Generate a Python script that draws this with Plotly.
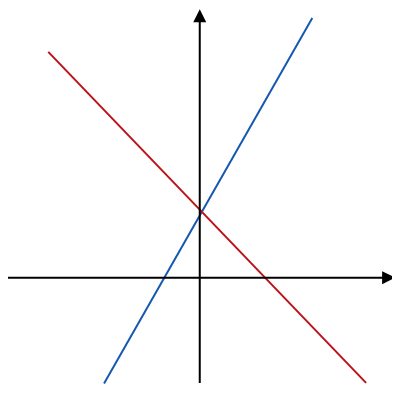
import plotly.graph_objects as go

# two straight lines (1 unit ~ 33 px)
blue_x = [-2.90, 3.41]
blue_y = [-3.21, 7.87]
red_x = [-4.59, 5.04]
red_y = [6.84, -3.19]

# axis extents (tail, tip)
xaxis_ends = [-5.93, 5.92]
yaxis_ends = [-3.24, 8.13]

fig = go.Figure()
fig.add_trace(go.Scatter(x=blue_x, y=blue_y, mode="lines",
                         line=dict(color="#1558b0", width=2)))
fig.add_trace(go.Scatter(x=red_x, y=red_y, mode="lines",
                         line=dict(color="#bb1219", width=2)))

# coordinate axes with arrowheads
fig.add_annotation(x=xaxis_ends[1], y=0, ax=xaxis_ends[0], ay=0,
                   xref="x", yref="y", axref="x", ayref="y",
                   showarrow=True, arrowhead=2, arrowsize=1.3, arrowwidth=2,
                   arrowcolor="black", text="", standoff=0)
fig.add_annotation(x=0, y=yaxis_ends[1], ax=0, ay=yaxis_ends[0],
                   xref="x", yref="y", axref="x", ayref="y",
                   showarrow=True, arrowhead=2, arrowsize=1.3, arrowwidth=2,
                   arrowcolor="black", text="", standoff=0)

# page body adds an 8px offset, so ranges are shifted to compensate
fig.update_xaxes(range=[-5.81, 6.31], visible=False)
fig.update_yaxes(range=[-3.95, 8.17], visible=False)
fig.update_layout(width=400, height=400, margin=dict(l=0, r=0, t=0, b=0),
                  plot_bgcolor="white", paper_bgcolor="white",
                  showlegend=False)
fig.write_html("out.html")
